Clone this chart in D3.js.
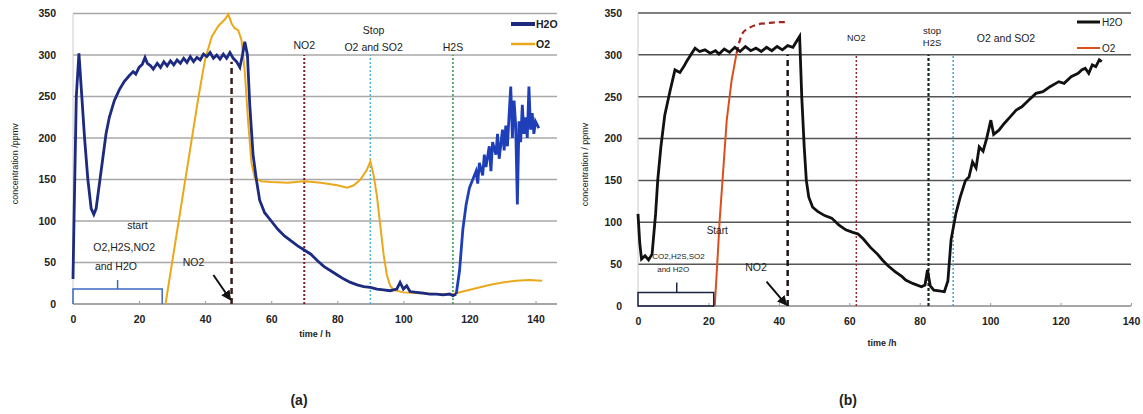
<!DOCTYPE html>
<html>
<head>
<meta charset="utf-8">
<script src="https://cdn.jsdelivr.net/npm/d3@7"></script>
<style>
  html, body { margin: 0; padding: 0; background: #fff; }
  svg text { font-family: "Liberation Sans", Arial, sans-serif; fill: #222; }
</style>
</head>
<body>
<div id="chart"></div>
<script>
// ---- data ----
const xTicks = [0, 20, 40, 60, 80, 100, 120, 140];
const yTicks = [0, 50, 100, 150, 200, 250, 300, 350];

// panel (a)
const h2oA = [[0,30],[0.3,100],[1,250],[1.8,302],[2.5,260],[3.5,200],[4.5,150],[5.5,115],[6.3,108],[7,115],[8,145],[9,175],[10,205],[11,225],[12.5,245],[14,258],[15.5,268],[17,275],[18.2,280],[19,277],[20,285],[21,289],[21.8,297],[22.5,290],[23.5,287],[24.3,283],[25.5,290],[26.5,285],[27.5,292],[28.5,287],[29.5,293],[30.5,288],[31.5,294],[32.5,290],[33.5,296],[34.5,291],[35.5,298],[36.5,292],[37.5,297],[38.5,294],[39.5,301],[40.5,298],[41.5,303],[42.5,296],[43.5,300],[44.5,295],[45.5,301],[46.5,296],[47.5,303],[48.5,296],[49.5,292],[50.5,285],[51.3,300],[52,316],[52.8,300],[53.5,240],[54.5,180],[55.5,150],[56.5,125],[58,110],[60,100],[62,90],[64,82],[66,76],[68,70],[70,65],[72,60],[74,52],[76,45],[78,40],[80,35],[82,30],[84,26],[86,23],[88,21],[90,20],[92,18],[94,17],[96,16],[98,18],[99,26],[100,18],[101,22],[102,15],[104,14],[106,13],[108,12],[110,12],[112,11],[114,12],[115,10],[116,12],[117,40],[118,90],[119,120],[120,140],[121,150],[122,160],[122.5,145],[123,170],[124,155],[124.5,180],[125,165],[126,190],[126.5,160],[127,195],[128,180],[128.5,205],[129,175],[130,210],[130.5,185],[131,215],[131.5,190],[132,228],[132.5,262],[133,200],[133.5,245],[134,215],[134.5,120],[135,220],[135.5,195],[136,240],[136.5,205],[137,225],[137.5,200],[138,262],[138.5,210],[139,230],[139.5,205],[140,220],[141,212]];
const o2A = [[28,0],[30,50],[32,100],[34,150],[36,200],[38,250],[40,295],[42,322],[44,335],[46,343],[47,349],[48,338],[49,332],[50,330],[51,318],[52,280],[53,220],[54,170],[55,152],[57,148],[60,147],[65,146],[70,148],[75,146],[80,143],[83,140],[85,143],[87,150],[89,162],[90,172],[91,155],[92,130],[93,95],[94,60],[95,35],[96,22],[97,17],[100,14],[105,13],[110,12],[115,12],[118,15],[122,19],[126,23],[130,26],[134,28],[138,29],[142,28]];
const eventsA = [
  { t: 48, top: 292, color: '#3a1c1c', dash: '6,4', width: 2.5 },
  { t: 70, top: 300, color: '#7a1e24', dash: '2,2', width: 2 },
  { t: 90, top: 300, color: '#4ab4d6', dash: '2,2', width: 1.5 },
  { t: 115, top: 300, color: '#2e9a4e', dash: '2,2', width: 1.5 }
];

// panel (b)
const h2oB = [[0,110],[0.5,75],[1,56],[2,60],[3,55],[4,62],[5,110],[5.6,150],[6.5,190],[7.6,228],[9,255],[10.5,282],[11.9,279],[13,286],[13.8,292],[15,300],[16.2,308],[17.5,304],[19,306],[20.5,302],[22,305],[23,301],[24.5,307],[26,303],[27.5,309],[29,304],[30.5,310],[32,305],[33.5,308],[35,304],[36.5,309],[38,305],[39.5,310],[41,306],[42.5,311],[44,309],[45.3,318],[45.9,322],[46.5,250],[47.2,190],[47.8,150],[48.5,130],[49.6,118],[51,113],[53,108],[55,105],[57,97],[59,91],[61,88],[62.5,86],[64,80],[66,70],[68,62],[69.4,55],[71,48],[73,41],[75,35],[76,31],[78,27],[80.5,23],[81.5,25],[82.2,43],[83,24],[84,19],[85.5,18],[87,17],[88,30],[88.9,79],[90.3,111],[91.5,130],[93,150],[94,154],[95,172],[96,165],[96.9,190],[98,185],[99,200],[100.2,222],[101,205],[102.5,210],[104,218],[105.5,225],[107.4,234],[109,238],[111,246],[113,254],[115,256],[117,262],[119.5,268],[121,266],[123,274],[125,278],[126,282],[127,284],[128,278],[129,288],[130,286],[131,294],[131.7,292]];
const o2B = [[21.8,0],[22.5,50],[23.2,103],[24,150],[25.2,222],[26.6,270],[28,302]];
const o2BDash = [[28,302],[29.7,326],[31.5,332],[33.7,336],[37,338],[40,339],[42.2,339]];
const eventsB = [
  { t: 42.5, top: 300, color: '#1e1414', dash: '6,4', width: 2.5 },
  { t: 62, top: 300, color: '#9a2a2e', dash: '2,2', width: 1.5 },
  { t: 82.5, top: 300, color: '#1a2a1a', dash: '3,2', width: 2.2 },
  { t: 89.5, top: 300, color: '#4a9ed6', dash: '2,2', width: 1.5 }
];

const W = 1143, H = 414;
const svg = d3.select('#chart').append('svg').attr('width', W).attr('height', H);

function panel(cfg) {
  const x = d3.scaleLinear().domain(cfg.xDomain).range(cfg.xRange);
  const y = d3.scaleLinear().domain([0, 350]).range(cfg.yRange);
  const g = svg.append('g');

  // gridlines
  g.selectAll('line.grid').data(yTicks.filter(d => d > 0)).join('line')
    .attr('x1', cfg.xRange[0]).attr('x2', cfg.xRange[1])
    .attr('y1', d => y(d)).attr('y2', d => y(d))
    .attr('stroke', cfg.gridColor).attr('stroke-width', cfg.gridWidth);

  // y axis
  const ya = g.append('g').attr('transform', `translate(${cfg.xRange[0]},0)`)
    .call(d3.axisLeft(y).tickValues(yTicks).tickSize(0).tickPadding(cfg.yPad));
  ya.select('.domain').remove();
  ya.selectAll('text').attr('font-size', 10.5).attr('font-weight', 'bold').attr('fill', '#222');

  // x axis
  const xa = g.append('g').attr('transform', `translate(0,${cfg.yRange[0]})`)
    .call(d3.axisBottom(x).tickValues(xTicks).tickSize(3).tickPadding(9));
  xa.select('.domain').attr('stroke', '#888').attr('stroke-width', 1.5)
    .attr('d', `M${cfg.xRange[0]},0H${cfg.xRange[1]}`);
  xa.selectAll('.tick line').attr('stroke', '#999').attr('y2', -3);
  xa.selectAll('text').attr('font-size', 10.5).attr('font-weight', 'bold').attr('fill', '#222');

  // left axis line
  g.append('line').attr('x1', cfg.xRange[0]).attr('x2', cfg.xRange[0])
    .attr('y1', cfg.yRange[0]).attr('y2', cfg.yRange[1]).attr('stroke', '#ccc');

  // axis titles
  g.append('text').attr('transform', `translate(${cfg.yTitleX},${(cfg.yRange[0] + cfg.yRange[1]) / 2 + 5}) rotate(-90)`)
    .attr('text-anchor', 'middle').attr('font-size', 9).attr('fill', '#333').text(cfg.yTitle);
  g.append('text').attr('x', cfg.xTitleX).attr('y', cfg.xTitleY)
    .attr('text-anchor', 'middle').attr('font-size', 9).attr('font-weight', 'bold').attr('fill', '#333').text(cfg.xTitle);

  // event lines
  g.selectAll('line.ev').data(cfg.events).join('line')
    .attr('x1', d => x(d.t)).attr('x2', d => x(d.t))
    .attr('y1', y(0)).attr('y2', d => y(d.top))
    .attr('stroke', d => d.color).attr('stroke-width', d => d.width).attr('stroke-dasharray', d => d.dash);

  return { g, x, y };
}

const line = (x, y) => d3.line().x(d => x(d[0])).y(d => y(d[1]));

// ---------- panel (a) ----------
const A = panel({
  xDomain: [0, 146.5], xRange: [73, 557], yRange: [304, 13.5],
  gridColor: '#a8a8a8', gridWidth: 1.5, yPad: 17,
  yTitle: 'concentration /ppmv', yTitleX: 18,
  xTitle: 'time / h', xTitleX: 315, xTitleY: 337,
  events: eventsA
});
A.g.append('path').datum(o2A).attr('d', line(A.x, A.y))
  .attr('fill', 'none').attr('stroke', '#eaa91c').attr('stroke-width', 2);
A.g.append('path').datum(h2oA.filter(d => d[0] <= 116)).attr('d', line(A.x, A.y))
  .attr('fill', 'none').attr('stroke', '#1c2a80').attr('stroke-width', 2.8);
A.g.append('path').datum(h2oA.filter(d => d[0] >= 116)).attr('d', line(A.x, A.y))
  .attr('fill', 'none').attr('stroke', '#1f3fb8').attr('stroke-width', 2.8);

// bracket
const bA = A.g.append('g').attr('stroke', '#3d68c4').attr('stroke-width', 1.5).attr('fill', 'none');
bA.append('path').attr('d', `M${A.x(0)},${A.y(0)}V${A.y(18)}H${A.x(27)}V${A.y(0)}`);
bA.append('path').attr('d', `M${A.x(13.5)},${A.y(18)}V${A.y(29)}`);

const annA = [
  { t: 19.5, v: 90, s: 'start' },
  { t: 15.5, v: 64, s: 'O2,H2S,NO2' },
  { t: 13, v: 41, s: 'and H2O' },
  { t: 36.5, v: 46, s: 'NO2' },
  { t: 70, v: 307, s: 'NO2' },
  { t: 91, v: 325, s: 'Stop' },
  { t: 91, v: 305, s: 'O2 and SO2' },
  { t: 115, v: 305, s: 'H2S' }
];
A.g.selectAll('text.ann').data(annA).join('text')
  .attr('x', d => A.x(d.t)).attr('y', d => A.y(d.v)).attr('text-anchor', 'middle')
  .attr('font-size', 10.5).attr('fill', '#222').text(d => d.s);

// arrow
const defs = svg.append('defs');
defs.append('marker').attr('id', 'arr').attr('viewBox', '0 0 10 10').attr('refX', 8).attr('refY', 5)
  .attr('markerWidth', 5).attr('markerHeight', 5).attr('orient', 'auto')
  .append('path').attr('d', 'M0,0L10,5L0,10Z').attr('fill', '#111');
A.g.append('line').attr('x1', A.x(42.5)).attr('y1', A.y(35)).attr('x2', A.x(47.5)).attr('y2', A.y(6))
  .attr('stroke', '#111').attr('stroke-width', 2).attr('marker-end', 'url(#arr)');

// legend (a)
const legA = [{ s: 'H2O', c: '#1c2a80', w: 4, yy: 24 }, { s: 'O2', c: '#eaa91c', w: 2.5, yy: 44 }];
legA.forEach(d => {
  A.g.append('line').attr('x1', 511).attr('x2', 535).attr('y1', d.yy).attr('y2', d.yy)
    .attr('stroke', d.c).attr('stroke-width', d.w);
  A.g.append('text').attr('x', 536).attr('y', d.yy + 4).attr('font-size', 10.5).attr('font-weight', 'bold').text(d.s);
});

// ---------- panel (b) ----------
const B = panel({
  xDomain: [0, 140], xRange: [638, 1131], yRange: [306, 13],
  gridColor: '#555', gridWidth: 1.5, yPad: 16,
  yTitle: 'concentration / ppmv', yTitleX: 588,
  xTitle: 'time /h', xTitleX: 882, xTitleY: 346,
  events: eventsB
});
B.g.append('path').datum(o2B).attr('d', line(B.x, B.y))
  .attr('fill', 'none').attr('stroke', '#d9501e').attr('stroke-width', 2);
B.g.append('path').datum(o2BDash).attr('d', d3.line().x(d => B.x(d[0])).y(d => B.y(d[1])).curve(d3.curveMonotoneX))
  .attr('fill', 'none').attr('stroke', '#a3261e').attr('stroke-width', 2.2).attr('stroke-dasharray', '6,4');
B.g.append('path').datum(h2oB).attr('d', line(B.x, B.y))
  .attr('fill', 'none').attr('stroke', '#111').attr('stroke-width', 2.8);

const bB = B.g.append('g').attr('stroke', '#1a2440').attr('stroke-width', 1.5).attr('fill', 'none');
bB.append('path').attr('d', `M${B.x(0)},${B.y(0)}V${B.y(16)}H${B.x(21.5)}V${B.y(0)}Z`);
bB.append('path').attr('d', `M${B.x(11)},${B.y(16)}V${B.y(28)}`);

const annB = [
  { t: 22.5, v: 86, s: 'Start', fs: 10, c: '#445' },
  { t: 11.5, v: 56, s: 'CO2,H2S,SO2', fs: 8, c: '#222' },
  { t: 10, v: 41, s: 'and H2O', fs: 8, c: '#222' },
  { t: 33.5, v: 42, s: 'NO2', fs: 10.5, c: '#222' },
  { t: 62, v: 316, s: 'NO2', fs: 9, c: '#333' },
  { t: 83.5, v: 325, s: 'stop', fs: 9.5, c: '#222' },
  { t: 83.5, v: 310, s: 'H2S', fs: 9.5, c: '#222' },
  { t: 104.5, v: 315, s: 'O2 and SO2', fs: 10.5, c: '#222' }
];
B.g.selectAll('text.ann').data(annB).join('text')
  .attr('x', d => B.x(d.t)).attr('y', d => B.y(d.v)).attr('text-anchor', 'middle')
  .attr('font-size', d => d.fs).attr('fill', d => d.c).text(d => d.s);

B.g.append('line').attr('x1', B.x(36.5)).attr('y1', B.y(29)).attr('x2', B.x(42)).attr('y2', B.y(2))
  .attr('stroke', '#111').attr('stroke-width', 2).attr('marker-end', 'url(#arr)');

const legB = [{ s: 'H2O', c: '#111', w: 3, yy: 22 }, { s: 'O2', c: '#d9501e', w: 2, yy: 48 }];
legB.forEach(d => {
  B.g.append('line').attr('x1', 1077).attr('x2', 1100).attr('y1', d.yy).attr('y2', d.yy)
    .attr('stroke', d.c).attr('stroke-width', d.w);
  B.g.append('text').attr('x', 1102).attr('y', d.yy + 4).attr('font-size', 10).text(d.s);
});

// panel captions
svg.append('text').attr('x', 299).attr('y', 405).attr('text-anchor', 'middle')
  .attr('font-size', 14).attr('font-weight', 'bold').text('(a)');
svg.append('text').attr('x', 848).attr('y', 405).attr('text-anchor', 'middle')
  .attr('font-size', 14).attr('font-weight', 'bold').text('(b)');
</script>
</body>
</html>
